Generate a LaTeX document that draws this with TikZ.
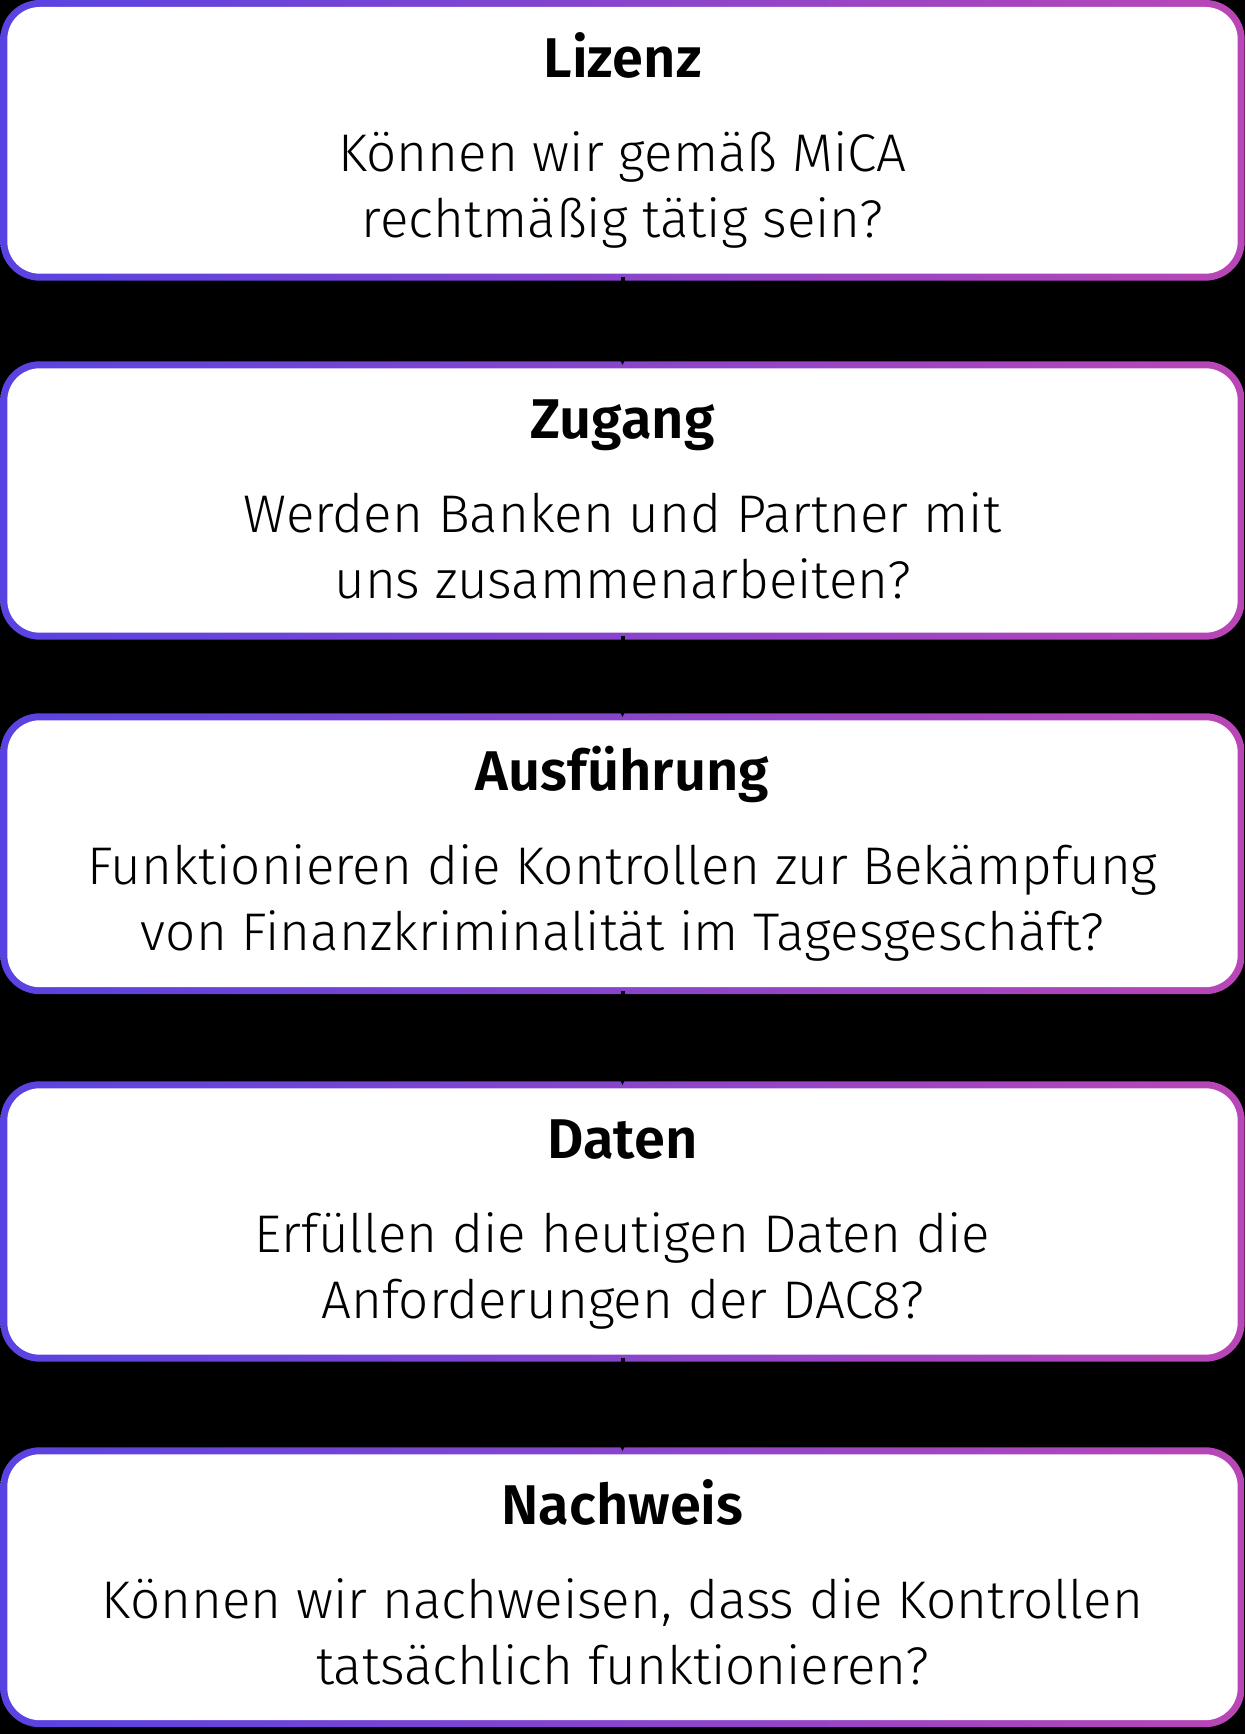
\documentclass[tikz,border=0pt]{standalone}
\usepackage{fontspec}
\setmainfont{Fira Sans Light}[BoldFont=Fira Sans SemiBold]
\usetikzlibrary{arrows.meta,calc,backgrounds}
\definecolor{gleft}{HTML}{5843E2}
\definecolor{gright}{HTML}{B946B6}
\tikzset{
  stepbox/.style={rectangle, draw=none, inner sep=0pt, minimum width=1237pt, minimum height=#1},
  titletext/.style={anchor=base, font=\fontsize{56}{66}\selectfont\bfseries, inner sep=0pt},
  bodytext/.style={anchor=base, font=\fontsize{53}{66}\selectfont, inner sep=0pt},
  link/.style={draw=black, line width=4pt, -{Stealth[length=12pt,width=12pt]}}
}
\begin{document}
\begin{tikzpicture}[x=1pt,y=1pt]
\useasboundingbox (0,0) rectangle (1245,1734);
% boxes: centre y = 1734 - (top+bottom)/2
\node[stepbox=273.3pt] (b1) at (622.5,{1734-140.35}) {};
\node[stepbox=271pt]   (b2) at (622.5,{1734-500.5}) {};
\node[stepbox=273.5pt] (b3) at (622.5,{1734-853.75}) {};
\node[stepbox=273pt]   (b4) at (622.5,{1734-1221.5}) {};
\node[stepbox=272.5pt] (b5) at (622.5,{1734-1587.25}) {};
\begin{scope}[on background layer]
\fill[black] (0,0) rectangle (1245,1734);
\foreach \b in {b1,b2,b3,b4,b5}{
  \shade[left color=gleft, right color=gright, rounded corners=39.5pt]
    ($(\b.south west)+(-3.5,-3.5)$) rectangle ($(\b.north east)+(3.5,3.5)$);
  \fill[white, rounded corners=32.5pt]
    ($(\b.south west)+(3.5,3.5)$) rectangle ($(\b.north east)+(-3.5,-3.5)$);
}
\end{scope}
% texts
\node[titletext] (t1) at ($(b1.north)+(0,-74)$) {Lizenz};
\node[bodytext] (q1a) at ($(b1.north)+(0,-168)$) {Können wir gemäß MiCA};
\node[bodytext] (q1b) at ($(b1.north)+(0,-234)$) {rechtmäßig tätig sein?};
\node[titletext] (t2) at ($(b2.north)+(0,-74)$) {Zugang};
\node[bodytext] (q2a) at ($(b2.north)+(0,-168)$) {Werden Banken und Partner mit};
\node[bodytext] (q2b) at ($(b2.north)+(0,-234)$) {uns zusammenarbeiten?};
\node[titletext] (t3) at ($(b3.north)+(0,-74)$) {Ausführung};
\node[bodytext] (q3a) at ($(b3.north)+(0,-168)$) {Funktionieren die Kontrollen zur Bekämpfung};
\node[bodytext] (q3b) at ($(b3.north)+(0,-234)$) {von Finanzkriminalität im Tagesgeschäft?};
\node[titletext] (t4) at ($(b4.north)+(0,-74)$) {Daten};
\node[bodytext] (q4a) at ($(b4.north)+(0,-168)$) {Erfüllen die heutigen Daten die};
\node[bodytext] (q4b) at ($(b4.north)+(0,-234)$) {Anforderungen der DAC8?};
\node[titletext] (t5) at ($(b5.north)+(0,-74)$) {Nachweis};
\node[bodytext] (q5a) at ($(b5.north)+(0,-168)$) {Können wir nachweisen, dass die Kontrollen};
\node[bodytext] (q5b) at ($(b5.north)+(0,-234)$) {tatsächlich funktionieren?};
% connectors
\draw[link] (b1.south) -- (b2.north);
\draw[link] (b2.south) -- (b3.north);
\draw[link] (b3.south) -- (b4.north);
\draw[link] (b4.south) -- (b5.north);
\end{tikzpicture}
\end{document}
